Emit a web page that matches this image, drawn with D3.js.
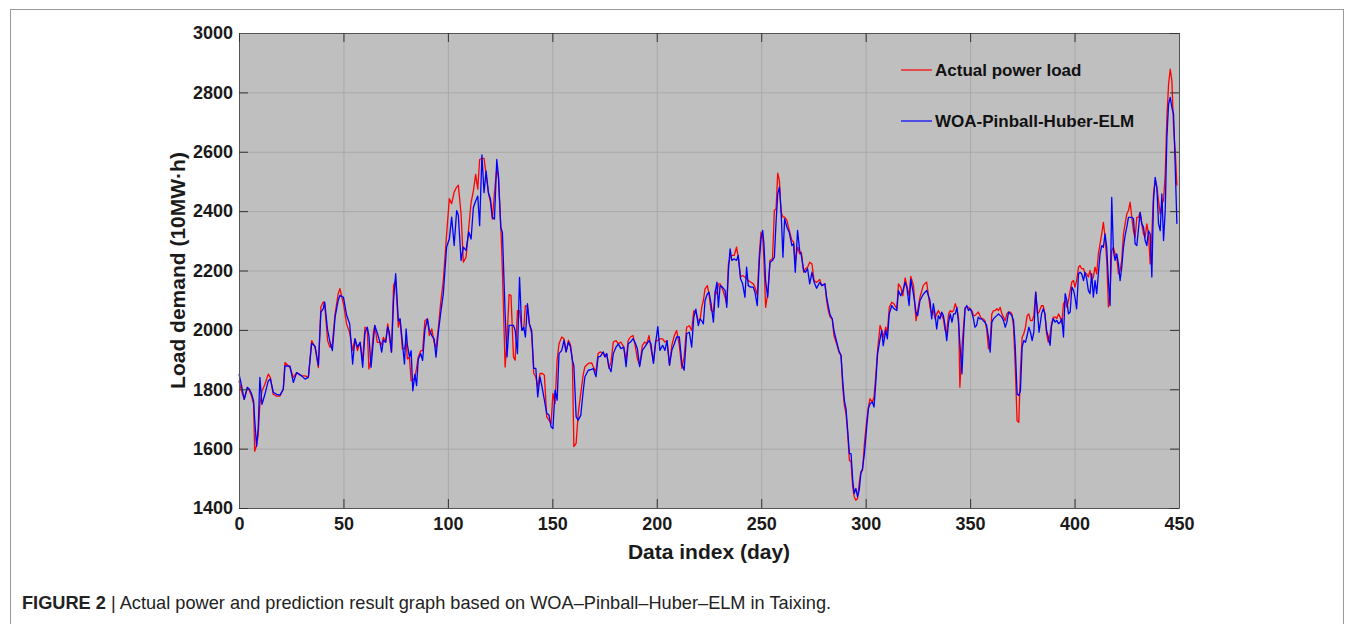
<!DOCTYPE html>
<html>
<head>
<meta charset="utf-8">
<script src="https://cdn.jsdelivr.net/npm/d3@7"></script>
<style>
  body { margin: 0; background: #fff; }
  svg { display: block; font-family: "Liberation Sans", Arial, sans-serif; }
</style>
</head>
<body>
<svg id="chart" width="1354" height="624"></svg>
<script>
// data (day index, actual load, WOA-Pinball-Huber-ELM prediction)
var days = [
  0, 1, 2.5, 4, 5, 6, 7, 7.5, 8.4, 9.2,
  10, 11, 12.4, 14, 15, 16.4, 18, 19.6, 21.2, 22,
  24.4, 26, 27.6, 30, 31.6, 33.2, 34.8, 36.4, 38, 39.2,
  40.3, 41, 42.4, 43.5, 44.7, 46, 47.5, 48.3, 50, 51.5,
  53, 54.4, 55.5, 56.7, 58, 59.2, 60.3, 61.4, 62.2, 63.2,
  64.3, 65, 66.2, 67.5, 68.3, 69.1, 70.2, 71.2, 72, 73,
  74, 75, 76.3, 77.1, 78.2, 79.2, 80, 80.6, 81.6, 82.4,
  83.2, 84.2, 85, 85.8, 87, 87.9, 89, 90.2, 91.1, 92.3,
  93.4, 94.3, 95.4, 96.5, 97.8, 99.4, 100.7, 101.8, 103, 104.2,
  105, 106.3, 107.4, 108.7, 110, 111.1, 112.2, 113.3, 114.3, 115.2,
  116.3, 117.3, 118.3, 119.4, 120.4, 121.3, 122.3, 123.4, 124.2, 125.3,
  126.1, 127.4, 128.3, 129.3, 130.2, 131.4, 132.2, 133.3, 134.3, 135.4,
  136.3, 137.1, 138.1, 139, 140.1, 141.1, 142.1, 143, 144.1, 145.2,
  146.2, 147.3, 148.4, 149.4, 150.3, 151.3, 152.3, 153.2, 154.5, 155.6,
  156.6, 157.7, 158.7, 159.6, 160.3, 161.4, 162.4, 163.6, 164.8, 165.6,
  167.2, 168.8, 169.6, 170.9, 171.9, 173, 174.4, 175.2, 176, 177.1,
  178.1, 179.2, 180.5, 181.6, 182.8, 184.2, 185.3, 186.3, 187.4, 188.6,
  189.5, 190.7, 191.8, 193.1, 194.2, 195.2, 196.3, 197.2, 198.4, 199.5,
  200.5, 201.5, 202.8, 203.9, 204.9, 206.1, 207.2, 208.4, 209.5, 210.8,
  212, 213.1, 214.3, 215.6, 216.7, 217.7, 218.7, 219.9, 220.7, 221.5,
  222.3, 223.1, 224.2, 225, 226, 227.1, 228, 228.8, 229.5, 230.3,
  231.4, 232.7, 233.5, 234.3, 235.1, 235.9, 237.1, 238.2, 239, 240.1,
  241.1, 242.2, 243, 243.8, 244.9, 246.2, 247, 248.1, 249.1, 249.9,
  250.7, 251.3, 252.1, 253.1, 254.2, 255.4, 256.3, 257.1, 257.9, 258.7,
  259.5, 260.4, 261.2, 262.3, 263.4, 264.7, 265.5, 266.3, 267.4, 268.4,
  269.2, 270.3, 271.1, 272.2, 273.2, 274.3, 275.3, 276.5, 278, 279,
  280.5, 281.3, 282.1, 283, 284, 284.8, 286.1, 287.2, 288.2, 289,
  289.8, 290.6, 291.4, 292.2, 293, 293.8, 294.5, 295.3, 296.1, 296.9,
  297.7, 298.5, 299.4, 300.5, 301.3, 302.1, 303.2, 304, 304.8, 305.7,
  306.9, 307.7, 308.4, 309.6, 310.4, 311.3, 312.5, 313.6, 314.9, 315.7,
  316.8, 317.8, 318.9, 319.7, 320.8, 321.6, 322.9, 324.1, 324.9, 326,
  327.6, 329.2, 330.8, 331.6, 332.4, 333.2, 334, 334.8, 335.6, 336.4,
  337.2, 338, 338.8, 339.7, 340.5, 341.3, 342.1, 342.9, 343.7, 344.5,
  345.1, 346.1, 346.9, 347.6, 348.4, 349.2, 350, 350.8, 351.6, 352.3,
  353.1, 353.9, 354.7, 355.5, 356.3, 357.1, 357.9, 358.8, 359.6, 360.4,
  361.2, 362, 362.8, 363.6, 364.4, 365.2, 366, 366.8, 367.6, 368.4,
  369.2, 370, 370.8, 371.6, 372.5, 373.3, 374.1, 374.9, 375.7, 376.5,
  377.3, 378.1, 378.9, 379.7, 380.5, 381.4, 382.2, 383, 384.2, 385,
  385.8, 386.6, 387.4, 388.3, 389, 389.8, 390.7, 391.5, 392.3, 393.1,
  393.9, 394.7, 395.5, 396.3, 397.1, 397.9, 398.7, 399.5, 400.2, 401,
  401.9, 402.6, 403.4, 404.3, 405, 405.8, 406.6, 407.4, 408.2, 409,
  409.8, 410.6, 411.4, 412.2, 413, 413.8, 414.6, 415.4, 416.2, 417,
  417.8, 418.6, 419.4, 420.2, 421, 421.8, 422.6, 423.4, 424.2, 425,
  425.8, 426.6, 427.4, 428.2, 429, 429.8, 430.6, 431.4, 432.2, 433,
  433.8, 434.6, 435.4, 436.2, 437, 437.8, 438.6, 439.4, 440.2, 441,
  441.8, 442.6, 443.4, 444.2, 445, 445.8, 446.6, 447.4, 448.2, 449
];

var actual = [
  1828, 1800, 1766, 1806, 1794, 1777, 1749, 1591, 1610, 1647,
  1749, 1794, 1817, 1851, 1840, 1783, 1777, 1777, 1800, 1890,
  1873, 1840, 1856, 1845, 1845, 1840, 1964, 1941, 1873, 2077,
  2094, 2088, 1964, 1941, 1953, 2054, 2122, 2139, 2088, 2020,
  1990, 1930, 1970, 1930, 1958, 1897, 2009, 2003, 1868, 1900,
  1987, 2015, 1958, 1958, 1950, 1975, 1958, 2020, 1975, 1925,
  2150, 2166, 2009, 2037, 1936, 1936, 1960, 1902, 1908, 1829,
  1829, 1840, 1870, 1908, 1930, 1930, 2031, 2037, 1981, 2003,
  1958, 1940, 2003, 2088, 2166, 2324, 2442, 2425, 2464, 2481,
  2487, 2391, 2228, 2245, 2345, 2429, 2468, 2524, 2474, 2574,
  2578, 2578, 2524, 2462, 2429, 2373, 2462, 2546, 2513, 2356,
  2200, 1875, 1965, 2119, 2116, 1909, 1898, 2065, 2065, 1998,
  2004, 2082, 2077, 2021, 1987, 1853, 1842, 1808, 1853, 1853,
  1847, 1707, 1696, 1685, 1786, 1752, 1898, 1953, 1976, 1970,
  1926, 1965, 1950, 1898, 1607, 1618, 1719, 1785, 1850, 1876,
  1887, 1889, 1876, 1859, 1920, 1926, 1920, 1909, 1920, 1870,
  1892, 1959, 1964, 1953, 1959, 1942, 1898, 1964, 1976, 1981,
  1953, 1903, 1881, 1948, 1959, 1953, 1981, 1937, 1892, 1964,
  1964, 1970, 1970, 1959, 1964, 1881, 1948, 1981, 1998, 1948,
  1870, 1909, 2009, 2014, 1998, 2064, 2059, 2031, 2031, 2076,
  2099, 2138, 2149, 2121, 2065, 2060, 2133, 2121, 2155, 2155,
  2138, 2110, 2088, 2222, 2245, 2251, 2251, 2279, 2245, 2178,
  2183, 2178, 2172, 2166, 2161, 2155, 2144, 2116, 2256, 2329,
  2312, 2234, 2076, 2121, 2234, 2239, 2402, 2408, 2528, 2503,
  2397, 2380, 2380, 2369, 2335, 2301, 2296, 2228, 2279, 2256,
  2262, 2194, 2206, 2211, 2228, 2222, 2166, 2160, 2170, 2149,
  2155, 2099, 2065, 2043, 2037, 1981, 1953, 1925, 1914, 1807,
  1746, 1718, 1650, 1561, 1555, 1471, 1438, 1426, 1432, 1482,
  1522, 1527, 1617, 1695, 1740, 1768, 1757, 1774, 1841, 1931,
  2015, 1998, 1975, 2009, 1992, 2076, 2093, 2087, 2071, 2155,
  2143, 2115, 2175, 2149, 2115, 2180, 2149, 2031, 2065, 2110,
  2150, 2161, 2076, 2054, 2065, 2037, 2054, 2065, 2054, 2048,
  2037, 1998, 1992, 2054, 2065, 2060, 2065, 2088, 2071, 2037,
  1807, 1942, 2015, 2076, 2076, 2076, 2071, 2065, 2048, 2048,
  2054, 2060, 2048, 2037, 2037, 2031, 2003, 1936, 1964, 2054,
  2065, 2065, 2071, 2065, 2076, 2054, 2043, 2031, 2054, 2060,
  2060, 2054, 2009, 1874, 1694, 1689, 1863, 1975, 1987, 2009,
  2048, 2054, 2031, 2031, 2048, 2127, 2054, 2060, 2082, 2082,
  2054, 1987, 1959, 1987, 2021, 2043, 2043, 2038, 2054, 2043,
  2021, 2088, 2099, 2077, 2099, 2133, 2161, 2166, 2144, 2166,
  2211, 2217, 2206, 2206, 2189, 2189, 2178, 2200, 2166, 2178,
  2211, 2189, 2256, 2290, 2323, 2362, 2312, 2234, 2077, 2122,
  2267, 2278, 2256, 2245, 2189, 2200, 2234, 2323, 2357, 2390,
  2402, 2430, 2379, 2334, 2312, 2379, 2379, 2396, 2357, 2323,
  2312, 2357, 2323, 2222, 2323, 2458, 2503, 2480, 2435, 2390,
  2424, 2435, 2525, 2715, 2827, 2878, 2839, 2682, 2603, 2486
];

var predicted = [
  1851, 1820, 1766, 1806, 1800, 1785, 1760, 1700, 1608, 1670,
  1840, 1749, 1783, 1828, 1835, 1790, 1783, 1780, 1800, 1879,
  1878, 1823, 1856, 1845, 1834, 1840, 1955, 1945, 1880, 2060,
  2071, 2094, 2000, 1960, 1930, 2043, 2100, 2116, 2110, 2050,
  2020, 1885, 1970, 1942, 1958, 1874, 1990, 2009, 1980, 1874,
  1960, 2015, 1990, 1958, 1925, 1965, 1958, 2010, 1990, 1925,
  2100, 2189, 2030, 2037, 1960, 1885, 2003, 1950, 1908, 1930,
  1795, 1850, 1812, 1900, 1920, 1897, 2000, 2037, 2000, 1981,
  1970, 1908, 1990, 2054, 2121, 2279, 2307, 2380, 2284, 2402,
  2386, 2234, 2279, 2268, 2330, 2306, 2412, 2434, 2451, 2351,
  2589, 2462, 2535, 2462, 2440, 2379, 2373, 2574, 2520, 2345,
  2328, 2054, 1909, 2015, 2015, 2015, 1998, 1920, 2177, 1998,
  2009, 1976, 2088, 2021, 1998, 1870, 1870, 1774, 1842, 1803,
  1763, 1719, 1713, 1674, 1668, 1797, 1763, 1920, 1931, 1965,
  1926, 1959, 1942, 1898, 1880, 1707, 1696, 1712, 1795, 1842,
  1864, 1867, 1870, 1842, 1909, 1911, 1926, 1909, 1920, 1876,
  1859, 1920, 1942, 1953, 1937, 1942, 1876, 1953, 1959, 1970,
  1959, 1937, 1876, 1931, 1942, 1953, 1964, 1953, 1887, 1959,
  2011, 1931, 1948, 1931, 1964, 1881, 1931, 1953, 1976, 1976,
  1887, 1864, 1987, 1992, 1942, 2042, 2070, 2014, 2037, 2031,
  2020, 2099, 2121, 2127, 2088, 2026, 2127, 2161, 2076, 2149,
  2144, 2133, 2076, 2200, 2273, 2234, 2239, 2234, 2251, 2172,
  2155, 2110, 2211, 2149, 2144, 2144, 2127, 2082, 2234, 2307,
  2335, 2290, 2166, 2110, 2228, 2234, 2245, 2363, 2458, 2481,
  2402, 2245, 2374, 2346, 2329, 2284, 2290, 2194, 2335, 2267,
  2251, 2200, 2194, 2206, 2155, 2194, 2161, 2140, 2160, 2149,
  2155, 2110, 2080, 2050, 2037, 1998, 1960, 1930, 1914, 1830,
  1762, 1734, 1660, 1583, 1583, 1494, 1449, 1466, 1438, 1460,
  1516, 1533, 1583, 1673, 1734, 1751, 1757, 1740, 1818, 1919,
  1970, 1998, 1947, 1998, 1970, 2054, 2082, 2071, 2065, 2132,
  2115, 2132, 2160, 2143, 2082, 2170, 2120, 2059, 2048, 2099,
  2120, 2133, 2099, 2037, 2088, 2054, 2003, 2048, 2037, 2060,
  2048, 2015, 1964, 2026, 2054, 2026, 2054, 2054, 2076, 2020,
  1953, 1852, 1987, 2071, 2082, 2065, 2071, 2060, 2037, 2009,
  2015, 2043, 2037, 2037, 2031, 2026, 2015, 1975, 1925, 2026,
  2037, 2043, 2048, 2054, 2048, 2043, 2031, 2009, 2026, 2060,
  2054, 2048, 2031, 1942, 1784, 1779, 1796, 1942, 1964, 1958,
  1981, 2009, 1992, 1964, 1992, 2127, 2065, 1992, 2054, 2071,
  2054, 1998, 1976, 1948, 2015, 2038, 2026, 2032, 2021, 2026,
  2038, 1976, 2122, 2099, 2054, 2060, 2144, 2133, 2110, 2071,
  2189, 2194, 2189, 2166, 2194, 2172, 2133, 2122, 2189, 2110,
  2166, 2122, 2189, 2256, 2284, 2278, 2323, 2278, 2166, 2082,
  2446, 2267, 2234, 2256, 2222, 2166, 2211, 2278, 2318, 2346,
  2379, 2379, 2379, 2374, 2290, 2284, 2340, 2396, 2357, 2346,
  2301, 2284, 2334, 2323, 2178, 2435, 2514, 2480, 2357, 2334,
  2458, 2301, 2402, 2648, 2760, 2783, 2749, 2727, 2547, 2357
];

var xTicks = [0, 50, 100, 150, 200, 250, 300, 350, 400, 450];
var yTicks = [1400, 1600, 1800, 2000, 2200, 2400, 2600, 2800, 3000];
var seriesNames = ['Actual power load', 'WOA-Pinball-Huber-ELM'];
var seriesColors = ['#ff0000', '#0000ff'];

var plotLeft = 239, plotRight = 1179, plotTop = 33, plotBottom = 508;

var svg = d3.select('#chart');

// figure frame
svg.append('rect')
  .attr('x', 10.5).attr('y', 9.5)
  .attr('width', 1333).attr('height', 700)
  .attr('fill', 'none').attr('stroke', '#9a9a9a');

var x = d3.scaleLinear().domain([0, 450]).range([plotLeft, plotRight]);
var y = d3.scaleLinear().domain([1400, 3000]).range([plotBottom, plotTop]);

svg.append('rect')
  .attr('x', plotLeft).attr('y', plotTop)
  .attr('width', plotRight - plotLeft).attr('height', plotBottom - plotTop)
  .attr('fill', '#bfbfbf');

// grid
svg.append('g')
  .attr('transform', 'translate(0,' + plotBottom + ')')
  .call(d3.axisBottom(x).tickValues(xTicks).tickSize(-(plotBottom - plotTop)).tickFormat(''))
  .call(g => g.select('.domain').remove())
  .selectAll('line').attr('stroke', '#a9a9a9');
svg.append('g')
  .attr('transform', 'translate(' + plotLeft + ',0)')
  .call(d3.axisLeft(y).tickValues(yTicks).tickSize(-(plotRight - plotLeft)).tickFormat(''))
  .call(g => g.select('.domain').remove())
  .selectAll('line').attr('stroke', '#a9a9a9');

// series
var line = d3.line()
  .x((d, i) => x(days[i]))
  .y(d => y(d));

[actual, predicted].forEach((s, k) => {
  svg.append('path')
    .datum(s)
    .attr('d', line)
    .attr('fill', 'none')
    .attr('stroke', seriesColors[k])
    .attr('stroke-width', 1.3)
    .attr('stroke-linejoin', 'round');
});

// axes (ticks point inward, mirrored on top/right)
function styleAxis(g) {
  g.select('.domain').attr('stroke', '#555');
  g.selectAll('.tick line').attr('stroke', '#333');
  g.selectAll('text')
    .attr('font-family', '"Liberation Sans", Arial, sans-serif')
    .attr('font-size', 18).attr('font-weight', 'bold').attr('fill', '#1a1a1a');
}

svg.append('g')
  .attr('transform', 'translate(0,' + plotBottom + ')')
  .call(d3.axisBottom(x).tickValues(xTicks).tickSize(-9).tickSizeOuter(0).tickPadding(9).tickFormat(d3.format('d')))
  .call(styleAxis);
svg.append('g')
  .attr('transform', 'translate(' + plotLeft + ',0)')
  .call(d3.axisLeft(y).tickValues(yTicks).tickSize(-9).tickSizeOuter(0).tickPadding(6).tickFormat(d3.format('d')))
  .call(styleAxis);
svg.append('g')
  .attr('transform', 'translate(0,' + plotTop + ')')
  .call(d3.axisTop(x).tickValues(xTicks).tickSize(-9).tickSizeOuter(0).tickFormat(''))
  .call(styleAxis);
svg.append('g')
  .attr('transform', 'translate(' + plotRight + ',0)')
  .call(d3.axisRight(y).tickValues(yTicks).tickSize(-9).tickSizeOuter(0).tickFormat(''))
  .call(styleAxis);

// axis titles
svg.append('text')
  .attr('x', (plotLeft + plotRight) / 2).attr('y', 559)
  .attr('text-anchor', 'middle')
  .attr('font-size', 21).attr('font-weight', 'bold').attr('fill', '#1a1a1a')
  .text('Data index (day)');
svg.append('text')
  .attr('transform', 'translate(185,' + ((plotTop + plotBottom) / 2) + ') rotate(-90)')
  .attr('text-anchor', 'middle')
  .attr('font-size', 21).attr('font-weight', 'bold').attr('fill', '#1a1a1a')
  .text('Load demand (10MW\u00b7h)');

// legend
var legend = svg.append('g');
seriesNames.forEach((name, k) => {
  var ly = 70 + k * 51;
  legend.append('line')
    .attr('x1', 901).attr('x2', 932)
    .attr('y1', ly).attr('y2', ly)
    .attr('stroke', seriesColors[k]).attr('stroke-width', 1.2);
  legend.append('text')
    .attr('x', 935).attr('y', ly + 6)
    .attr('font-size', 17).attr('font-weight', 'bold').attr('fill', '#111')
    .text(name);
});

// caption
var cap = svg.append('text')
  .attr('x', 22).attr('y', 609)
  .attr('font-size', 18.2).attr('fill', '#222');
cap.append('tspan').attr('font-weight', 'bold').text('FIGURE 2');
cap.append('tspan').text(' | Actual power and prediction result graph based on WOA\u2013Pinball\u2013Huber\u2013ELM in Taixing.');
</script>
</body>
</html>
